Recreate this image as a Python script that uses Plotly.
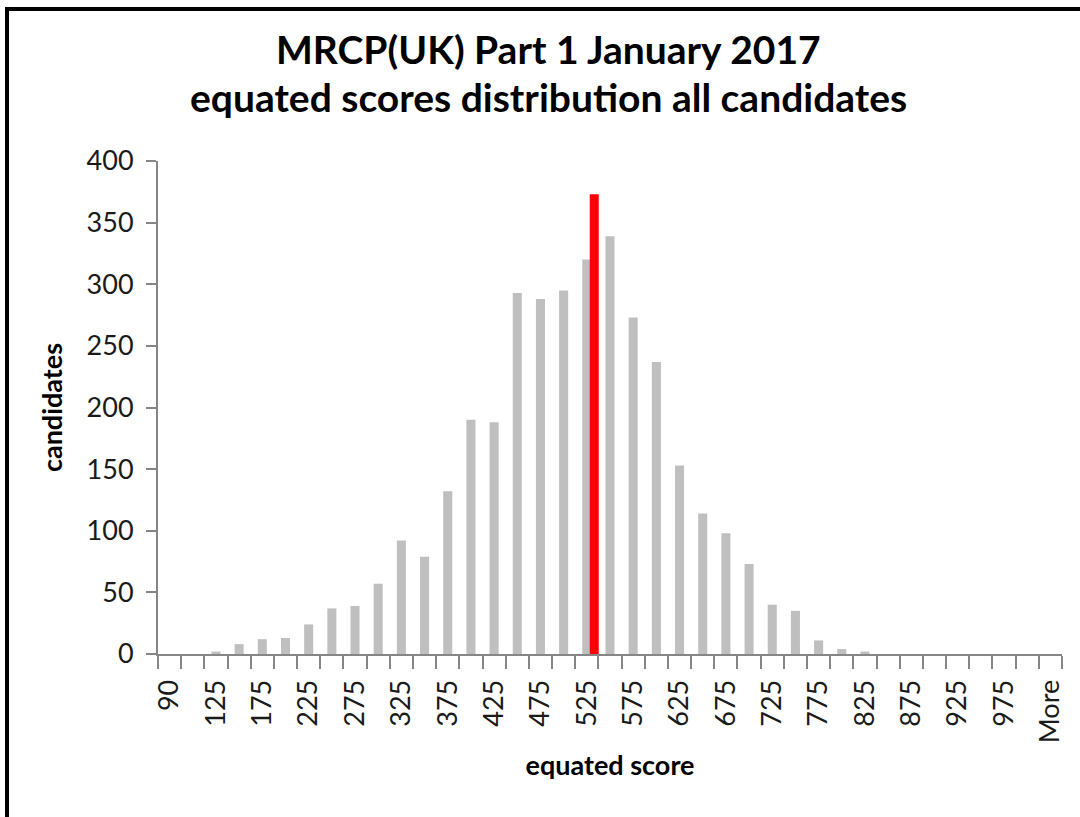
import plotly.graph_objects as go

# ---- data ----
categories = ["90", "100", "125", "150", "175", "200", "225", "250", "275", "300",
              "325", "350", "375", "400", "425", "450", "475", "500", "525", "550",
              "575", "600", "625", "650", "675", "700", "725", "750", "775", "800",
              "825", "850", "875", "900", "925", "950", "975", "1000", "More"]
candidates = [0, 0, 2, 8, 12, 13, 24, 37, 39, 57,
              92, 79, 132, 190, 188, 293, 288, 295, 320, 339,
              273, 237, 153, 114, 98, 73, 40, 35, 11, 4,
              2, 0, 0, 0, 0, 0, 0, 0, 0]
pass_mark_score = 533      # score where the red line is drawn
pass_mark_height = 373     # height of the red line (candidates axis units)

title_lines = ["MRCP(UK) Part 1 January 2017", "equated scores distribution all candidates"]
x_title = "equated score"
y_title = "candidates"
y_ticks = [0, 50, 100, 150, 200, 250, 300, 350, 400]

FONT = "Lato"

# page body margin is removed in the written page (post_script), so figure = page pixels
W, H = 1080, 817
L, R, T, B = 158, 18, 161, 163
PW, PH = W - L - R, H - T - B


def py(fig_y):
    """figure-pixel y -> paper y"""
    return (H - B - fig_y) / PH


def px(fig_x):
    return (fig_x - L) / PW


idx = list(range(len(categories)))
label_idx = idx[::2]                      # every second category is labelled
label_text = [categories[i] for i in label_idx]
boundaries = [i - 0.5 for i in idx] + [idx[-1] + 0.5]

# position of pass mark on category index scale (bins of 25)
pm_pos = categories.index("525") + (pass_mark_score - 525) / 25.0

fig = go.Figure()
fig.add_trace(go.Bar(
    x=idx, y=candidates,
    marker=dict(color="#BFBFBF", line=dict(width=0)),
    showlegend=False, hoverinfo="x+y",
))
fig.add_trace(go.Scatter(
    x=[pm_pos, pm_pos], y=[0, pass_mark_height],
    mode="lines", line=dict(color="#FF0000", width=9),
    showlegend=False, cliponaxis=False,
))

fig.update_layout(
    width=W, height=H,
    margin=dict(l=L, r=R, t=T, b=B),
    paper_bgcolor="white", plot_bgcolor="white",
    bargap=0.61,
    font=dict(family=FONT, color="#1a1a1a"),
    annotations=[
        dict(text="<b>" + title_lines[0] + "</b>", xref="paper", yref="paper",
             x=px(548), y=py(49), xanchor="center", yanchor="middle",
             showarrow=False, font=dict(family=FONT, size=39, color="black")),
        dict(text="<b>" + title_lines[1] + "</b>", xref="paper", yref="paper",
             x=px(548), y=py(97), xanchor="center", yanchor="middle",
             showarrow=False, font=dict(family=FONT, size=39, color="black")),
    ],
    xaxis=dict(
        range=[-0.5, len(categories) - 0.5],
        tickmode="array", tickvals=label_idx, ticktext=label_text,
        tickangle=-90, ticks="outside", ticklen=13, tickcolor="rgba(0,0,0,0)",
        ticklabelstandoff=0,
        tickfont=dict(family=FONT, size=27, color="#1a1a1a"),
        minor=dict(tickmode="array", tickvals=boundaries, ticks="outside",
                   ticklen=13, tickwidth=2, tickcolor="#868686", showgrid=False),
        showline=True, linecolor="#868686", linewidth=2,
        showgrid=False, zeroline=False,
        title=dict(text="<b>" + x_title + "</b>", standoff=14,
                   font=dict(family=FONT, size=27, color="black")),
    ),
    yaxis=dict(
        range=[0, 400],
        tickmode="array", tickvals=y_ticks,
        ticks="outside", ticklen=10, tickwidth=2, tickcolor="#868686",
        ticklabelstandoff=7,
        tickfont=dict(family=FONT, size=27, color="#1a1a1a"),
        showline=True, linecolor="#868686", linewidth=2,
        showgrid=False, zeroline=False,
        title=dict(text="<b>" + y_title + "</b>", standoff=16,
                   font=dict(family=FONT, size=27, color="black")),
    ),
    shapes=[
        # outer frame of the original image (top and left edges visible)
        dict(type="rect", xref="paper", yref="paper",
             x0=px(7), x1=px(1120), y0=py(860), y1=py(9),
             line=dict(color="black", width=4), fillcolor="rgba(0,0,0,0)",
             layer="above"),
    ],
)

fig.write_html(
    "out.html",
    config={"displayModeBar": False},
    post_script="document.body.style.margin='0';document.body.style.padding='0';",
)
